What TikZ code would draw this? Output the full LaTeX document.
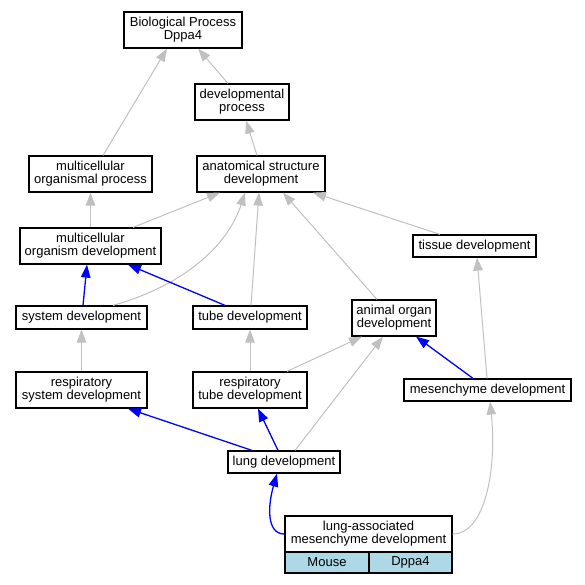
\documentclass[tikz,border=0pt]{standalone}
\usepackage{fontspec}
\setmainfont{Liberation Sans}
\usetikzlibrary{arrows.meta}
\definecolor{isagray}{RGB}{192,192,192}
\definecolor{cellblue}{RGB}{173,216,230}
\begin{document}
\begin{tikzpicture}[x=1pt, y=-1pt,
        term/.style={draw, line width=1.2pt, fill=white, align=center, inner sep=0pt,
            font=\fontsize{13}{13}\selectfont},
        cell/.style={term, fill=cellblue, minimum height=21pt},
        isa/.style={draw=isagray, line width=1pt, -{Triangle[length=13pt, width=9.5pt]}},
        partof/.style={draw=blue, line width=1.3pt, -{Triangle[length=13pt, width=9.5pt]}}]

        \useasboundingbox (0,0) rectangle (585,584);

        % Terms
        \node[term, minimum width=118pt, minimum height=36pt] (bp) at (183,30) {Biological Process\\Dppa4};
        \node[term, minimum width=94pt, minimum height=36pt] (devproc) at (242,102) {developmental\\process};
        \node[term, minimum width=123pt, minimum height=36pt] (mop) at (90.5,174) {multicellular\\organismal process};
        \node[term, minimum width=128pt, minimum height=36pt] (asd) at (261,174) {anatomical structure\\development};
        \node[term, minimum width=141pt, minimum height=36pt] (mod) at (90.5,246) {multicellular\\organism development};
        \node[term, minimum width=123pt, minimum height=22pt] (tissue) at (474.5,246) {tissue development};
        \node[term, minimum width=131pt, minimum height=23pt] (sysdev) at (81.5,317.5) {system development};
        \node[term, minimum width=114pt, minimum height=23pt] (tubedev) at (250,317.5) {tube development};
        \node[term, minimum width=84pt, minimum height=36pt] (organdev) at (394,318) {animal organ\\development};
        \node[term, minimum width=131pt, minimum height=36pt] (rsd) at (81.5,390) {respiratory\\system development};
        \node[term, minimum width=114pt, minimum height=36pt] (rtd) at (250,390) {respiratory\\tube development};
        \node[term, minimum width=167pt, minimum height=22pt] (mesdev) at (487.5,390) {mesenchyme development};
        \node[term, minimum width=112pt, minimum height=22pt] (lungdev) at (284,462) {lung development};
        \node[term, minimum width=167pt, minimum height=36pt] (lam) at (368.5,534) {lung-associated\\mesenchyme development};
        \node[cell, minimum width=84pt] (mouse) at (327,562.5) {Mouse};
        \node[cell, minimum width=83pt] (gene) at (410.5,562.5) {Dppa4};

        % is_a edges
        \draw[isa] ([xshift=12.5pt]mop.north) -- ([xshift=-16pt]bp.south);
        \draw[isa] ([xshift=-14pt]devproc.north) -- ([xshift=15pt]bp.south);
        \draw[isa] ([xshift=-4pt]asd.north) -- ([xshift=4pt]devproc.south);
        \draw[isa] (mod.north) -- (mop.south);
        \draw[isa] ([xshift=42.5pt]mod.north) -- ([xshift=-41pt]asd.south);
        \draw[isa] ([xshift=31.5pt]sysdev.north) .. controls (185,285) and (228,245) .. ([xshift=-16pt]asd.south);
        \draw[isa] ([xshift=1pt]tubedev.north) -- ([xshift=-2pt]asd.south);
        \draw[isa] ([xshift=-17pt]organdev.north) -- ([xshift=22pt]asd.south);
        \draw[isa] ([xshift=-34.5pt]tissue.north) -- ([xshift=52pt]asd.south);
        \draw[isa] (rsd.north) -- (sysdev.south);
        \draw[isa] (rtd.north) -- (tubedev.south);
        \draw[isa] ([xshift=37pt]rtd.north) -- ([xshift=-32pt]organdev.south);
        \draw[isa] ([xshift=11pt]lungdev.north) -- ([xshift=-11pt]organdev.south);
        \draw[isa] ([xshift=-0.5pt]mesdev.north) -- ([xshift=2.5pt]tissue.south);
        \draw[isa] (lam.east) .. controls (485,534) and (497,470) .. ([xshift=2.5pt]mesdev.south);

        % part_of edges
        \draw[partof] ([xshift=1.5pt]sysdev.north) -- ([xshift=-3.5pt]mod.south);
        \draw[partof] ([xshift=-25pt]tubedev.north) -- ([xshift=37.5pt]mod.south);
        \draw[partof] ([xshift=-32pt]lungdev.north) -- ([xshift=46.5pt]rsd.south);
        \draw[partof] ([xshift=-6pt]lungdev.north) -- ([xshift=8pt]rtd.south);
        \draw[partof] ([xshift=-14.5pt]mesdev.north) -- ([xshift=22pt]organdev.south);
        \draw[partof] (lam.west) .. controls (266,534) and (268,505) .. ([xshift=-7pt]lungdev.south);

\end{tikzpicture}
\end{document}
